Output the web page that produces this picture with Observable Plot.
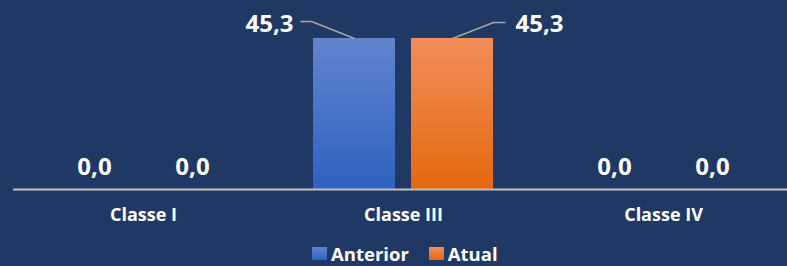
<!DOCTYPE html>
<html>
<head>
<meta charset="utf-8">
<script src="https://cdn.jsdelivr.net/npm/d3@7"></script>
<script src="https://cdn.jsdelivr.net/npm/@observablehq/plot@0.6"></script>
<style>
  html, body { margin: 0; padding: 0; background: #203864; }
  #chart { width: 787px; height: 266px; overflow: hidden; font-family: "Open Sans", sans-serif; }
  .legend { display: flex; align-items: center; height: 30px; padding-left: 312px; padding-top: 4px; box-sizing: border-box; color: #fff; font-weight: bold; font-size: 18.5px; line-height: 19px; }
  .legend .item { display: flex; align-items: center; margin-right: 20px; }
  .legend .sw { width: 15px; height: 13px; margin-right: 4px; }
</style>
</head>
<body>
<div id="chart"></div>
<script>
const categories = ["Classe I", "Classe III", "Classe IV"];
const seriesNames = ["Anterior", "Atual"];
const anterior = [0, 45.3, 0];
const atual = [0, 45.3, 0];

const data = categories.flatMap((c, i) => [
  {category: c, series: seriesNames[0], value: anterior[i]},
  {category: c, series: seriesNames[1], value: atual[i]}
]);
const fmt = v => v.toFixed(1).replace(".", ",");

function leader(pts) {
  return (context) => {
    let done = false;
    return {
      areaStart() {}, areaEnd() {},
      lineStart() { done = false; },
      lineEnd() {},
      point(x, y) {
        if (done) return;
        done = true;
        context.moveTo(x, y);
        for (const [dx, dy] of pts) context.lineTo(x + dx, y + dy);
      }
    };
  };
}

const zeroData = data.filter(d => d.value === 0);
const antNZ = data.filter(d => d.value !== 0 && d.series === "Anterior");
const atuNZ = data.filter(d => d.value !== 0 && d.series === "Atual");

const plot = Plot.plot({
  width: 787,
  height: 236,
  marginLeft: 12,
  marginRight: -7,
  marginTop: 22.3,
  marginBottom: 47,
  style: {background: "#203864", color: "#fff", fontFamily: "Open Sans, sans-serif"},
  fx: {domain: categories, padding: 0, axis: null},
  x: {domain: seriesNames, paddingInner: 0.162, paddingOuter: 0.403, axis: null},
  y: {domain: [0, 50], axis: null},
  marks: [
    Plot.barY(data.filter(d => d.series === "Anterior"), {fx: "category", x: "series", y: "value", fill: "url(#gBlue)"}),
    Plot.barY(data.filter(d => d.series === "Atual"), {fx: "category", x: "series", y: "value", fill: "url(#gOrange)"}),
    Plot.ruleY([0], {stroke: "#bfbfbf", strokeWidth: 2}),
    Plot.text(zeroData, {fx: "category", x: "series", y: "value", text: d => fmt(d.value), dy: -22, lineAnchor: "middle", fontSize: 24, fontWeight: "bold", fill: "#fff"}),
    Plot.link(antNZ, {fx: "category", x1: "series", x2: "series", y1: "value", y2: "value", stroke: "#a6a6a6", strokeWidth: 1.5, curve: leader([[-43, -17], [-54, -17]])}),
    Plot.link(atuNZ, {fx: "category", x1: "series", x2: "series", y1: "value", y2: "value", stroke: "#a6a6a6", strokeWidth: 1.5, curve: leader([[41, -16], [53, -16]])}),
    Plot.text(antNZ, {fx: "category", x: "series", y: "value", text: d => fmt(d.value), dx: -61, dy: -14.5, textAnchor: "end", lineAnchor: "middle", fontSize: 24, fontWeight: "bold", fill: "#fff"}),
    Plot.text(atuNZ, {fx: "category", x: "series", y: "value", text: d => fmt(d.value), dx: 63, dy: -14, textAnchor: "start", lineAnchor: "middle", fontSize: 24, fontWeight: "bold", fill: "#fff"}),
    Plot.text(categories, {fx: d => d, frameAnchor: "bottom", dy: 26, lineAnchor: "middle", text: d => d, fontSize: 18, fontWeight: "bold", fill: "#fff"})
  ]
});

const defs = d3.select(plot).insert("defs", ":first-child");
function grad(id, top, bottom) {
  const g = defs.append("linearGradient").attr("id", id).attr("x1", 0).attr("y1", 0).attr("x2", 0).attr("y2", 1);
  g.append("stop").attr("offset", "0%").attr("stop-color", top);
  g.append("stop").attr("offset", "100%").attr("stop-color", bottom);
}
grad("gBlue", "#6184cf", "#2e62bf");
grad("gOrange", "#f18d59", "#e4690f");

const chart = document.getElementById("chart");
chart.appendChild(plot);

const legend = document.createElement("div");
legend.className = "legend";
const swatches = [["Anterior", "linear-gradient(#6184cf, #2e62bf)"], ["Atual", "linear-gradient(#f18d59, #e4690f)"]];
for (const [name, bg] of swatches) {
  const item = document.createElement("div");
  item.className = "item";
  const sw = document.createElement("span");
  sw.className = "sw";
  sw.style.background = bg;
  const lab = document.createElement("span");
  lab.textContent = name;
  item.appendChild(sw);
  item.appendChild(lab);
  legend.appendChild(item);
}
chart.appendChild(legend);
</script>
</body>
</html>
